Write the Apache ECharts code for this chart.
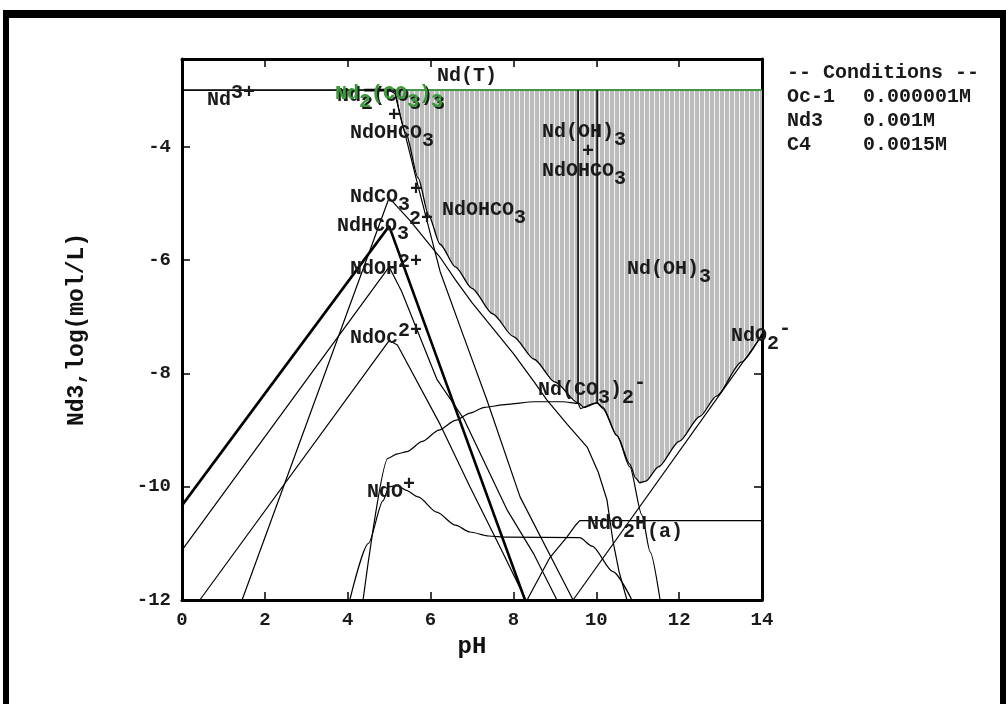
<!DOCTYPE html>
<html>
<head>
<meta charset="utf-8">
<script src="https://cdn.jsdelivr.net/npm/echarts@6/dist/echarts.min.js"></script>
<style>
  html, body { margin: 0; padding: 0; background: #fff; }
  #chart { width: 1006px; height: 704px; }
</style>
</head>
<body>
<div id="chart"></div>
<script>
// Axis ranges
const PH_MIN = 0, PH_MAX = 14, PH_STEP = 2;
const LOG_MIN = -12, LOG_MAX = -2.45, LOG_STEP = 2;
const TOTAL_ND = -3;               // log of total Nd, 0.001 M

// Total dissolved Nd where solids are stable (lower edge of the solid field)
const solubility = [[5.14,-3.0],[5.4,-3.75],[5.7,-4.55],[5.95,-5.2],[6.23,-5.72],[6.6,-6.12],[7.0,-6.5],
  [7.5,-6.95],[8.0,-7.35],[8.5,-7.75],[9.0,-8.15],[9.56,-8.52],[9.7,-8.6],[9.85,-8.55],[10.02,-8.52],
  [10.16,-8.62],[10.5,-9.1],[10.81,-9.6],[10.95,-9.85],[11.05,-9.93],[11.2,-9.9],[11.5,-9.65],
  [12.0,-9.2],[12.5,-8.76],[12.9,-8.4],[13.5,-7.8],[14,-7.3]];

// Species activities, [pH, log]
const ndTotal = [[0,-3],[14,-3]];
const ndTotalSat = [[3.65,-3],[14,-3]];
const nd2co33Edge = [[4.4,-3],[5.14,-3]];
const nd3 = [[0,-3],[5.0,-3],[5.14,-3.06],[5.4,-3.82],[5.7,-4.7],[6.0,-5.55],[6.23,-6.2],
  [6.8,-7.35],[7.36,-8.47],[8.16,-10.18],[9.44,-12]];
const ndHCO3 = [[0,-10.33],[5.0,-5.4],[8.28,-12]];
const ndCO3 = [[1.45,-12],[5.0,-4.9],[5.5,-5.3],[6.0,-5.75],[6.23,-5.95],[6.6,-6.35],[7.0,-6.75],
  [7.5,-7.2],[8.0,-7.65],[8.5,-8.15],[8.81,-8.47],[9.3,-8.9],[9.78,-9.3],[10.05,-9.75],
  [10.26,-10.24],[10.4,-10.95],[10.55,-11.5],[10.74,-12]];
const ndOH = [[0,-11.12],[5.0,-6.12],[5.3,-6.55],[6.15,-8.1],[6.8,-8.8],[7.84,-10.4],[8.5,-11.2],[9.05,-12]];
const ndOc = [[0.43,-12],[5.0,-7.42],[5.2,-7.5],[6.23,-8.9],[6.95,-10.0],[7.7,-11.1],[8.3,-12]];
const ndCO32 = [[4.37,-12],[4.97,-9.5],[5.2,-9.42],[5.43,-9.38],[5.8,-9.2],[6.2,-9.0],[6.6,-8.83],
  [6.95,-8.7],[7.3,-8.6],[7.8,-8.55],[8.5,-8.5],[9.2,-8.5],[9.56,-8.53],[9.62,-8.62],[9.7,-8.6],
  [10.02,-8.52],[10.16,-8.6],[10.5,-9.1],[10.81,-9.65],[11.1,-10.5],[11.3,-11.15],[11.54,-12]];
const ndO = [[4.05,-12],[4.5,-11.0],[4.85,-10.25],[5.0,-10.0],[5.2,-9.98],[5.4,-10.06],[5.7,-10.18],
  [6.15,-10.45],[6.6,-10.68],[6.95,-10.8],[7.4,-10.87],[7.84,-10.89],[9.6,-10.9],[9.9,-11.05],
  [10.4,-11.5],[10.86,-12]];
const ndO2H = [[8.33,-12],[8.88,-11.25],[9.29,-10.89],[9.5,-10.68],[9.6,-10.6],[14,-10.6]];
const ndO2 = [[9.44,-12],[14,-7.33]];
const fieldEdgeA = [[9.56,-3],[9.56,-8.52]];
const fieldEdgeB = [[10.02,-3],[10.02,-8.52]];

// Field and species labels: anchor [pH, log] and text pieces (0 normal, -1 subscript, 1 superscript)
const labelAnchors = [[0.603,-3.173],[6.155,-2.749],[3.741,-3.103],[4.972,-3.457],[4.055,-3.758],
  [4.055,-4.890],[3.741,-5.404],[4.055,-6.165],[4.055,-7.368],[4.465,-10.094],[6.276,-5.120],
  [8.689,-3.740],[9.655,-4.094],[8.689,-4.430],[10.741,-6.165],[13.251,-7.333],[8.593,-8.288],
  [9.775,-10.660],[3.741,-3.103]];
const labelParts = [
  [['Nd',0],['3+',1]],
  [['Nd(T)',0]],
  [['Nd',0],['2',-1],['(CO',0],['3',-1],[')',0],['3',-1]],
  [['+',0]],
  [['NdOHCO',0],['3',-1]],
  [['NdCO',0],['3',-1],['+',1]],
  [['NdHCO',0],['3',-1],['2+',1]],
  [['NdOH',0],['2+',1]],
  [['NdOc',0],['2+',1]],
  [['NdO',0],['+',1]],
  [['NdOHCO',0],['3',-1]],
  [['Nd(OH)',0],['3',-1]],
  [['+',0]],
  [['NdOHCO',0],['3',-1]],
  [['Nd(OH)',0],['3',-1]],
  [['NdO',0],['2',-1],['-',1]],
  [['Nd(',0],['CO',0],['3',-1],[')',0],['2',-1],['-',1]],
  [['NdO',0],['2',-1],['H',0],['(a)',-1]],
  [['Nd',0],['2',-1],['(CO',0],['3',-1],[')',0],['3',-1]]
];
const labelColors = ['#1a1a1a','#1a1a1a','#1a1a1a','#1a1a1a','#1a1a1a','#1a1a1a','#1a1a1a','#1a1a1a',
  '#1a1a1a','#1a1a1a','#1a1a1a','#1a1a1a','#1a1a1a','#1a1a1a','#1a1a1a','#1a1a1a','#1a1a1a','#1a1a1a','#3c9a3c'];

// Conditions block
const conditionTitle = '-- Conditions --';
const conditionNames = ['Oc-1', 'Nd3', 'C4'];
const conditionValues = ['0.000001M', '0.001M', '0.0015M'];

const FONT = '"Liberation Mono", "DejaVu Sans Mono", monospace';
const LABEL_FONT = 'bold 20px ' + FONT;
const mctx = document.createElement('canvas').getContext('2d');
mctx.font = LABEL_FONT;
const CHAR_W = mctx.measureText('M').width;

function stripeCanvas() {
  const c = document.createElement('canvas');
  c.width = 5; c.height = 8;
  const g = c.getContext('2d');
  g.fillStyle = '#bcbcbc'; g.fillRect(0, 0, 5, 8);
  g.fillStyle = '#f3f3f3'; g.fillRect(4, 0, 1, 8);
  return c;
}
const STRIPES = stripeCanvas();

function lineSeries(data, width, color, z, smooth) {
  return {
    type: 'line', data: data, symbol: 'none', showSymbol: false, silent: true,
    smooth: smooth ? 0.25 : false, smoothMonotone: 'x', clip: true,
    lineStyle: { color: color || '#000', width: width }, z: z || 3,
    xAxisIndex: 0, yAxisIndex: 0
  };
}

const chart = echarts.init(document.getElementById('chart'), null, { renderer: 'canvas' });

const axisLineStyle = { show: true, onZero: false, lineStyle: { color: '#000', width: 3 } };
const tickStyle = { show: true, inside: true, length: 8, lineStyle: { color: '#000', width: 1.5 } };
const tickLabel = { color: '#1a1a1a', fontFamily: FONT, fontWeight: 'bold', fontSize: 19, margin: 11 };

const condTexts = [];
condTexts.push({ type: 'text', x: 787, y: 73, style: { text: conditionTitle, font: LABEL_FONT, fill: '#1a1a1a', verticalAlign: 'middle' } });
conditionNames.forEach((n, i) => {
  condTexts.push({ type: 'text', x: 787, y: 97 + i * 24, style: { text: n, font: LABEL_FONT, fill: '#1a1a1a', verticalAlign: 'middle' } });
  condTexts.push({ type: 'text', x: 863, y: 97 + i * 24, style: { text: conditionValues[i], font: LABEL_FONT, fill: '#1a1a1a', verticalAlign: 'middle' } });
});

chart.setOption({
  animation: false,
  backgroundColor: '#fff',
  grid: { left: 182, right: 244, top: 59, bottom: 104, containLabel: false, outerBoundsMode: 'none' },
  xAxis: [
    { type: 'value', min: PH_MIN, max: PH_MAX, interval: PH_STEP, position: 'bottom',
      axisLine: axisLineStyle, axisTick: tickStyle, axisLabel: tickLabel, splitLine: { show: false },
      name: 'pH', nameLocation: 'middle', nameGap: 24,
      nameTextStyle: { fontFamily: FONT, fontWeight: 'bold', fontSize: 24, color: '#111' } },
    { type: 'value', min: PH_MIN, max: PH_MAX, interval: PH_STEP, position: 'top',
      axisLine: axisLineStyle, axisTick: tickStyle, axisLabel: { show: false }, splitLine: { show: false } }
  ],
  yAxis: [
    { type: 'value', min: LOG_MIN, max: LOG_MAX, interval: LOG_STEP, position: 'left',
      axisLine: axisLineStyle, axisTick: tickStyle,
      axisLabel: Object.assign({}, tickLabel, { showMaxLabel: false }), splitLine: { show: false },
      name: 'Nd3,log(mol/L)', nameLocation: 'middle', nameGap: 93, nameRotate: 90,
      nameTextStyle: { fontFamily: FONT, fontWeight: 'bold', fontSize: 23, color: '#111' } },
    { type: 'value', min: LOG_MIN, max: LOG_MAX, interval: LOG_STEP, position: 'right',
      axisLine: axisLineStyle, axisTick: tickStyle, axisLabel: { show: false }, splitLine: { show: false } }
  ],
  graphic: [
    { type: 'rect', shape: { x: 3, y: 10, width: 6, height: 700 }, style: { fill: '#000' } },
    { type: 'rect', shape: { x: 3, y: 10, width: 1003, height: 8 }, style: { fill: '#000' } },
    { type: 'rect', shape: { x: 1000, y: 10, width: 6, height: 700 }, style: { fill: '#000' } }
  ].concat(condTexts),
  series: [
    // Solid stability field (hatched)
    { type: 'custom', coordinateSystem: 'cartesian2d', xAxisIndex: 0, yAxisIndex: 0,
      data: [[7, -6]], z: 1, silent: true, clip: true,
      renderItem: function (params, api) {
        const pts = solubility.concat([[PH_MAX, TOTAL_ND]]).map(p => api.coord(p));
        return { type: 'polygon', shape: { points: pts },
                 style: { fill: { image: STRIPES, repeat: 'repeat' }, stroke: null } };
      } },
    lineSeries(ndTotal, 1.3, '#000', 2),
    lineSeries(ndTotalSat, 1.6, '#3c9a3c', 3),
    lineSeries(nd2co33Edge, 2.6, '#000', 4),
    lineSeries(solubility, 1.3, '#000', 3, true),
    lineSeries(fieldEdgeA, 1.5, '#000', 3),
    lineSeries(fieldEdgeB, 1.5, '#000', 3),
    lineSeries(nd3, 1.2, '#000', 3),
    lineSeries(ndHCO3, 2.6, '#000', 3),
    lineSeries(ndCO3, 1.2, '#000', 3),
    lineSeries(ndOH, 1.2, '#000', 3),
    lineSeries(ndOc, 1.2, '#000', 3),
    lineSeries(ndCO32, 1.2, '#000', 3, true),
    lineSeries(ndO, 1.2, '#000', 3, true),
    lineSeries(ndO2H, 1.2, '#000', 3),
    lineSeries(ndO2, 1.2, '#000', 3),
    // Labels
    { type: 'custom', coordinateSystem: 'cartesian2d', xAxisIndex: 0, yAxisIndex: 0,
      data: labelAnchors, z: 10, silent: true, clip: false,
      renderItem: function (params, api) {
        const i = params.dataIndex;
        const p = api.coord([api.value(0), api.value(1)]);
        const color = labelColors[i];
        const shift = i === labelParts.length - 1 ? [-2, -2] : [0, 0];
        let x = p[0] + shift[0];
        const children = [];
        labelParts[i].forEach(function (part) {
          const t = part[0], lvl = part[1];
          const dy = lvl === 1 ? -7 : (lvl === -1 ? 8 : 0);
          children.push({ type: 'text', x: x, y: p[1] + dy + shift[1],
            style: { text: t, font: LABEL_FONT, fill: color, textFill: color,
                     align: 'left', verticalAlign: 'middle', textAlign: 'left', textVerticalAlign: 'middle' } });
          x += t.length * CHAR_W;
        });
        return { type: 'group', children: children };
      } }
  ]
});
</script>
</body>
</html>
